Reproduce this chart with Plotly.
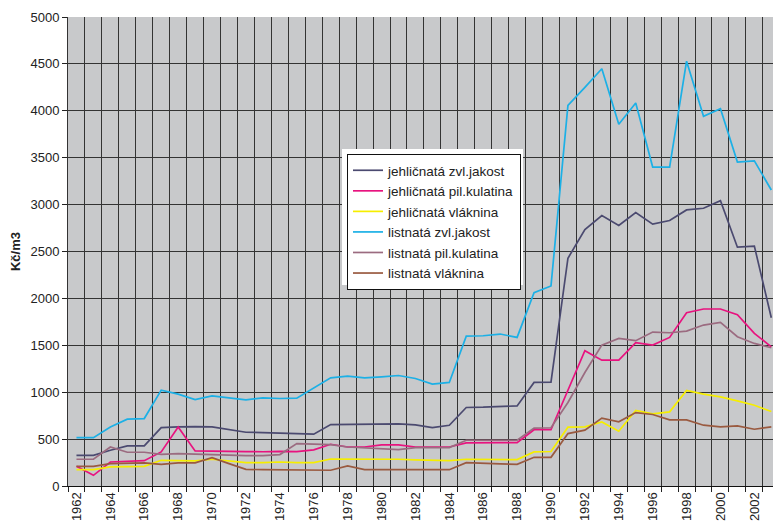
import plotly.graph_objects as go

years = list(range(1962, 2004))
tick_labels = [str(y) if y % 2 == 0 else "" for y in years]

jehl_zvl = [327, 327, 381, 427, 427, 623, 630, 634, 630, 605, 573, 570, 566, 555, 552,
            655, 655, 658, 662, 662, 651, 623, 648, 837, 840, 844, 854, 1104, 1107,
            2428, 2734, 2883, 2777, 2915, 2791, 2830, 2943, 2961, 3042, 2546, 2557, 1794]
jehl_pil = [210, 114, 256, 267, 270, 363, 630, 374, 374, 370, 367, 365, 370, 366, 385,
            445, 416, 416, 438, 438, 416, 416, 416, 459, 463, 463, 463, 600, 600,
            1018, 1442, 1342, 1342, 1527, 1502, 1584, 1848, 1887, 1887, 1826, 1627, 1484]
jehl_vlak = [174, 174, 203, 210, 210, 274, 267, 267, 285, 263, 249, 249, 256, 249, 249,
             288, 288, 288, 288, 285, 278, 274, 270, 285, 281, 281, 281, 363, 368,
             627, 630, 683, 584, 805, 769, 790, 1018, 979, 950, 908, 861, 794]
list_zvl = [516, 516, 630, 712, 719, 1022, 979, 922, 961, 940, 918, 940, 933, 936, 1045,
            1153, 1171, 1153, 1164, 1178, 1146, 1086, 1104, 1598, 1602, 1620, 1584, 2061, 2132,
            4058, 4250, 4448, 3857, 4083, 3400, 3400, 4529, 3942, 4023, 3453, 3467, 3156]
list_pil = [285, 285, 416, 360, 360, 338, 345, 338, 331, 328, 324, 324, 335, 452, 449,
            441, 416, 409, 399, 388, 409, 409, 409, 488, 488, 488, 488, 617, 621,
            890, 1210, 1502, 1574, 1549, 1641, 1634, 1652, 1716, 1744, 1591, 1520, 1474]
list_vlak = [210, 210, 239, 246, 246, 231, 246, 246, 303, 239, 178, 174, 171, 171, 168,
             168, 214, 174, 174, 174, 174, 174, 174, 249, 246, 235, 231, 306, 306,
             559, 595, 723, 684, 783, 762, 705, 705, 648, 630, 641, 605, 630]

series = [
    ("jehličnatá zvl.jakost", jehl_zvl, "#4b4a70"),
    ("jehličnatá pil.kulatina", jehl_pil, "#e8137f"),
    ("jehličnatá vláknina", jehl_vlak, "#f6ee00"),
    ("listnatá zvl.jakost", list_zvl, "#1cb0e6"),
    ("listnatá pil.kulatina", list_pil, "#9b6b80"),
    ("listnatá vláknina", list_vlak, "#9a5a40"),
]

cats = [str(y) for y in years]
fig = go.Figure()
for name, vals, col in series:
    fig.add_trace(go.Scatter(x=cats, y=vals, name=name, mode="lines",
                             line=dict(color=col, width=1.7)))

W, H = 773, 524
ML, MR, MT, MB = 68, 0, 17, 38
PW, PH = W - ML - MR, H - MT - MB

def px_x(x):
    return (x - ML) / PW

def px_y(y):
    return (H - MB - y) / PH

font_family = "Liberation Sans, Arial, sans-serif"
fig.update_layout(
    width=W, height=H,
    margin=dict(l=ML, r=MR, t=MT, b=MB, pad=0),
    paper_bgcolor="white",
    plot_bgcolor="#c8c9cb",
    font=dict(family=font_family, size=13, color="#222222"),
    showlegend=True,
    legend=dict(x=px_x(347), y=px_y(154), xanchor="left", yanchor="top",
                bgcolor="white", bordercolor="#111111", borderwidth=1,
                font=dict(size=13.5, color="#222222"),
                traceorder="normal"),
    xaxis=dict(type="category", categoryorder="array", categoryarray=cats,
               range=[-0.5, 41.1], tickson="boundaries",
               tickmode="array", tickvals=cats, ticktext=tick_labels,
               tickangle=-90, ticks="outside", ticklen=5, tickcolor="#222222",
               showgrid=True, gridcolor="#333333", gridwidth=1,
               showline=True, linecolor="#111111", linewidth=1,
               tickfont=dict(size=13), zeroline=False),
    yaxis=dict(range=[0, 5000], tickmode="linear", tick0=0, dtick=500,
               ticks="outside", ticklen=5, tickcolor="#222222",
               showgrid=True, gridcolor="#333333", gridwidth=1,
               showline=True, linecolor="#333333", linewidth=1,
               zeroline=False, tickfont=dict(size=13),
               title=dict(text="<b>Kč/m3</b>", font=dict(size=13), standoff=6)),
    shapes=[dict(type="rect", xref="paper", yref="paper",
                 x0=px_x(342), x1=px_x(523),
                 y0=px_y(285), y1=px_y(149),
                 fillcolor="white", line=dict(width=0), layer="above")],
)

fig.write_html("out.html",
               config={"displayModeBar": False},
               post_script="document.body.style.margin='0';"
                           "document.body.style.overflow='hidden';")
